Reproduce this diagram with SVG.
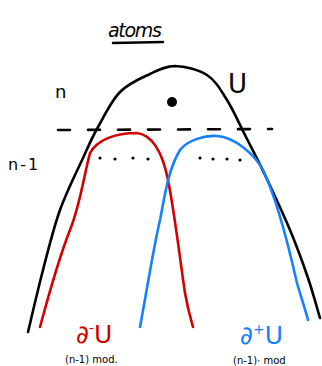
<svg xmlns="http://www.w3.org/2000/svg" width="322" height="366" viewBox="0 0 322 366">
<style>
.ln{fill:none;stroke-width:2.6;stroke-linecap:round;stroke-linejoin:round}
.k{stroke:#000}
.r{stroke:#d40000}
.b{stroke:#1580ff}
.t{font-family:"DejaVu Sans","Liberation Sans",sans-serif;fill:#000}
.dot{fill:#000}
</style>
<rect width="322" height="366" fill="#fff"/>
<g id="title">
<text class="t" x="108" y="37" font-size="19" font-style="italic" textLength="54">atoms</text>
<path class="ln k" d="M113,43 L163,42" stroke-width="2"/>
</g>
<g id="U">
<path class="ln k" d="M28,332 C30.5,321.7 37.7,290.3 43,270 C48.3,249.7 53.3,228.7 60,210 C66.7,191.3 76.7,171.8 83,158 C89.3,144.2 91.8,138 98,127 C104.2,116 111.3,100.8 120,92 C128.7,83.2 140.8,78.3 150,74 C159.2,69.7 165.5,66.2 175,66 C184.5,66.2 198.3,69.3 207,75 C215.7,80.7 220.7,90 227,100 C233.3,110 238.7,122.5 245,135 C251.3,147.5 257.5,159.2 265,175 C272.5,190.8 282.8,212.8 290,230 C297.2,247.2 303,263.3 308,278 C313,292.7 318,311.3 320,318"/>
<circle class="dot" cx="172" cy="102" r="5"/>
<text class="t" x="55" y="98" font-size="18">n</text>
<text class="t" x="228" y="93" font-size="26">U</text>
</g>
<g id="level">
<path class="ln k" d="M58,130 L272,129" stroke-width="1.8" stroke-dasharray="12,18"/>
<text class="t" x="8" y="170" font-size="16" letter-spacing="2">n-1</text>
</g>
<g id="dminusU">
<path class="ln r" d="M40,327 C50,290 60,255 70,230 C80,205 83,180 90,153 C97,140 115,133 137,133 C152,135 162,150 168,180 C175,215 180,260 185,293 C188,310 191,320 193,327"/>
<circle class="dot" cx="100" cy="158" r="1.6"/>
<circle class="dot" cx="115" cy="159" r="1.6"/>
<circle class="dot" cx="133" cy="158" r="1.6"/>
<circle class="dot" cx="148" cy="159" r="1.6"/>
<text x="76" y="343" font-size="25" fill="#d40000" font-family="DejaVu Sans,sans-serif">∂<tspan font-size="14" dy="-10">-</tspan><tspan dy="10">U</tspan></text>
<text class="t" x="65" y="363" font-size="10">(n-1) mod.</text>
</g>
<g id="dplusU">
<path class="ln b" d="M140,327 C147,290 153,250 160,220 C165,195 168,170 180,150 C188,140 205,135 217,136 C235,137 255,155 263,170 C275,195 285,230 297,283 C302,300 306,312 308,320"/>
<circle class="dot" cx="200" cy="158" r="1.6"/>
<circle class="dot" cx="213" cy="159" r="1.6"/>
<circle class="dot" cx="227" cy="159" r="1.6"/>
<circle class="dot" cx="240" cy="160" r="1.6"/>
<text x="240" y="344" font-size="25" fill="#1580ff" font-family="DejaVu Sans,sans-serif">∂<tspan font-size="14" dy="-10">+</tspan><tspan dy="10">U</tspan></text>
<text class="t" x="233" y="364" font-size="10">(n-1)· mod</text>
</g>
</svg>
